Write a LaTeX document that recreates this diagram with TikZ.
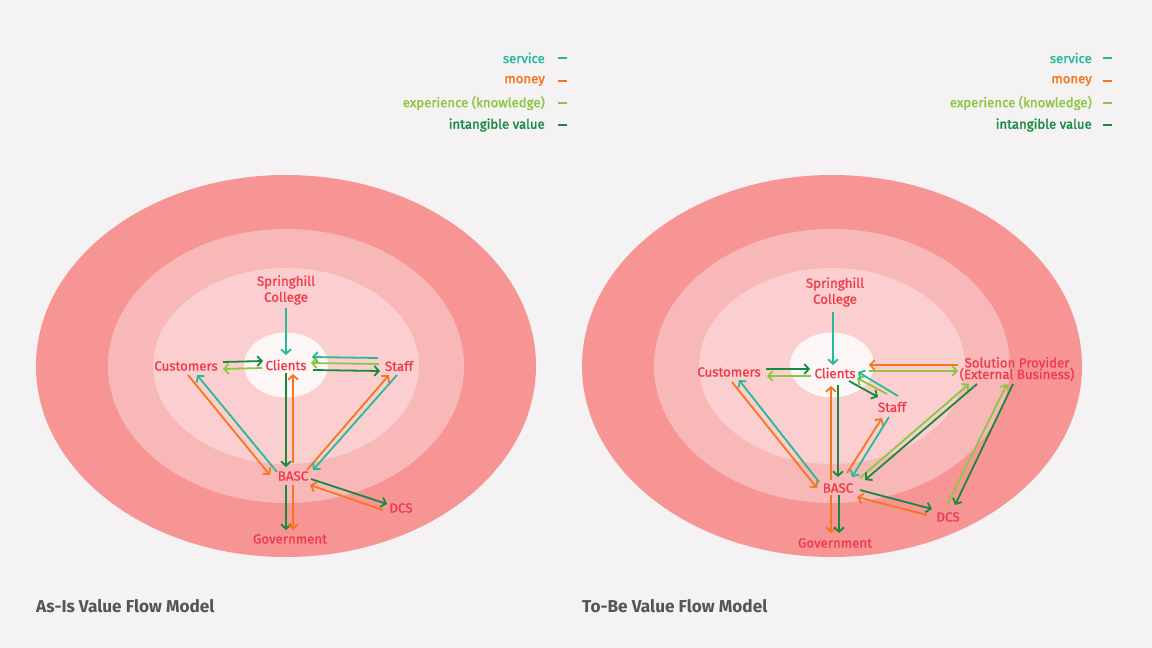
\documentclass[tikz,border=0pt]{standalone}
\usepackage{fontspec}
\setmainfont{Fira Sans}
\newfontfamily\medfont[FakeBold=1]{Fira Sans}
\newfontfamily\semfont[FakeBold=1.6]{Fira Sans}
\usetikzlibrary{arrows.meta,calc}
\definecolor{bg}{HTML}{F4F2F3}
\definecolor{ringA}{HTML}{F79494}
\definecolor{ringB}{HTML}{F9B8B8}
\definecolor{ringC}{HTML}{FBCFCF}
\definecolor{ringD}{HTML}{FDF6F6}
\definecolor{labred}{HTML}{F03A4C}
\definecolor{cteal}{HTML}{26B99A}
\definecolor{corange}{HTML}{F37721}
\definecolor{cltgreen}{HTML}{8DC63F}
\definecolor{cdkgreen}{HTML}{178A40}
\definecolor{titlegray}{HTML}{555555}
\tikzset{
  lab/.style={text=labred, inner sep=0pt, font=\medfont\fontsize{13.3}{16}\selectfont, align=center},
  lab2/.style={text=labred, inner sep=0pt, font=\medfont\fontsize{13.3}{11.5}\selectfont, align=center},
  legtext/.style={inner sep=0pt, anchor=east, font=\semfont\fontsize{13.2}{14}\selectfont},
  ttl/.style={text=titlegray, inner sep=0pt, anchor=west, font=\fontsize{17.2}{19}\selectfont\bfseries},
  ar/.style={line width=1.8pt, -{Straight Barb[length=4.5pt,width=10pt]}},
  sv/.style={ar, draw=cteal},
  mo/.style={ar, draw=corange},
  ex/.style={ar, draw=cltgreen},
  iv/.style={ar, draw=cdkgreen},
  legdash/.style={line width=2.2pt}
}
\begin{document}
\begin{tikzpicture}[x=1pt,y=-1pt]
\fill[bg] (0,0) rectangle (1152,648);
\useasboundingbox (0,0) rectangle (1152,648);

% ---------- rings ----------
\foreach \cx in {286,832}{
  \fill[ringA] (\cx,366) ellipse [x radius=250, y radius=191];
  \fill[ringB] (\cx,366) ellipse [x radius=178, y radius=137];
  \fill[ringC] (\cx,366) ellipse [x radius=133, y radius=98];
  \fill[ringD] (\cx,365) ellipse [x radius=42, y radius=32.5];
}

% ---------- legends ----------
\node[legtext, text=cteal] (Lls) at (545,58) {service};
\node[legtext, text=corange] (Llm) at (545,81) {money};
\node[legtext, text=cltgreen] (Lle) at (545,103) {experience (knowledge)};
\node[legtext, text=cdkgreen] (Lli) at (545,125) {intangible value};
\draw[legdash, cteal] (558,58) -- (567,58);
\draw[legdash, corange] (558,81) -- (567,81);
\draw[legdash, cltgreen] (558,103) -- (567,103);
\draw[legdash, cdkgreen] (558,125) -- (567,125);

\node[legtext, text=cteal] (Rls) at (1092,58) {service};
\node[legtext, text=corange] (Rlm) at (1092,81) {money};
\node[legtext, text=cltgreen] (Rle) at (1092,103) {experience (knowledge)};
\node[legtext, text=cdkgreen] (Rli) at (1092,125) {intangible value};
\draw[legdash, cteal] (1103,58) -- (1112,58);
\draw[legdash, corange] (1103,81) -- (1112,81);
\draw[legdash, cltgreen] (1103,103) -- (1112,103);
\draw[legdash, cdkgreen] (1103,125) -- (1112,125);

% ---------- titles ----------
\node[ttl] (Ltitle) at (36,606) {As-Is Value Flow Model};
\node[ttl] (Rtitle) at (582,606) {To-Be Value Flow Model};

% ---------- left diagram nodes ----------
\node[lab] (Lsc) at (286,290) {Springhill\\College};
\node[lab] (Lcli) at (286,365) {Clients};
\node[lab] (Lcus) at (186,366) {Customers};
\node[lab] (Lsta) at (399,366) {Staff};
\node[lab] (Lbasc) at (293,476) {BASC};
\node[lab] (Ldcs) at (401,508) {DCS};
\node[lab] (Lgov) at (290,539) {Government};

% ---------- left diagram arrows ----------
\draw[sv] ($(Lsc)+(0,18)$) -- ($(Lcli)+(0,-10)$);
\draw[iv] ($(Lcus)+(37,-4)$) -- ($(Lcli)+(-23,-4)$);
\draw[ex] ($(Lcli)+(-24,3)$) -- ($(Lcus)+(37,3)$);
\draw[sv] ($(Lsta)+(-21,-8)$) -- ($(Lcli)+(26,-8)$);
\draw[ex] ($(Lsta)+(-20,-2)$) -- ($(Lcli)+(25,-2)$);
\draw[iv] ($(Lcli)+(27,5)$) -- ($(Lsta)+(-19,5)$);
\draw[iv] ($(Lcli)+(0,8)$) -- ($(Lbasc)+(-7,-9)$);
\draw[mo] ($(Lbasc)+(0,-13)$) -- ($(Lcli)+(7,9)$);
\draw[mo] ($(Lcus)+(2,9)$) -- ($(Lbasc)+(-23,-1)$);
\draw[sv] ($(Lbasc)+(-16,-4)$) -- ($(Lcus)+(11,9)$);
\draw[mo] ($(Lbasc)+(14,-6)$) -- ($(Lsta)+(-10,9)$);
\draw[sv] ($(Lsta)+(-2,9)$) -- ($(Lbasc)+(20,-6)$);
\draw[iv] ($(Lbasc)+(18,3)$) -- ($(Ldcs)+(-14,-4)$);
\draw[mo] ($(Ldcs)+(-18,2)$) -- ($(Lbasc)+(17,9)$);
\draw[iv] ($(Lbasc)+(-7,9)$) -- ($(Lgov)+(-4,-9)$);
\draw[mo] ($(Lbasc)+(0,9)$) -- ($(Lgov)+(3,-9)$);

% ---------- right diagram nodes ----------
\node[lab] (Rsc) at (835,292) {Springhill\\College};
\node[lab] (Rcli) at (835,373) {Clients};
\node[lab] (Rcus) at (729,372) {Customers};
\node[lab] (Rsta) at (892,407) {Staff};
\node[lab2] (Rsp) at (1017,369) {Solution Provider\\(External Business)};
\node[lab] (Rbasc) at (838,488) {BASC};
\node[lab] (Rdcs) at (948,517) {DCS};
\node[lab] (Rgov) at (835,543) {Government};

% ---------- right diagram arrows ----------
\draw[sv] ($(Rsc)+(-2,20)$) -- ($(Rcli)+(-2,-8)$);
\draw[iv] ($(Rcus)+(37,-3)$) -- ($(Rcli)+(-25,-4)$);
\draw[ex] ($(Rcli)+(-24,3)$) -- ($(Rcus)+(38,4)$);
\draw[mo] ($(Rsp)+(-59,-4)$) -- ($(Rcli)+(34,-8)$);
\draw[ex] ($(Rcli)+(34,-2)$) -- ($(Rsp)+(-59,2)$);
\draw[iv] ($(Rcli)+(14,8)$) -- ($(Rsta)+(-14,-10)$);
\draw[ex] ($(Rsta)+(-5,-13)$) -- ($(Rcli)+(22,5)$);
\draw[sv] ($(Rsta)+(6,-11)$) -- ($(Rcli)+(23,-1)$);
\draw[iv] ($(Rcli)+(3,12)$) -- ($(Rbasc)+(0,-11)$);
\draw[mo] ($(Rbasc)+(-7,-8)$) -- ($(Rcli)+(-4,13)$);
\draw[mo] ($(Rcus)+(3,10)$) -- ($(Rbasc)+(-21,0)$);
\draw[sv] ($(Rbasc)+(-19,-6)$) -- ($(Rcus)+(10,8)$);
\draw[mo] ($(Rbasc)+(9,-15)$) -- ($(Rsta)+(-10,11)$);
\draw[sv] ($(Rsta)+(-3,10)$) -- ($(Rbasc)+(14,-11)$);
\draw[ex] ($(Rbasc)+(22,-10)$) -- ($(Rsp)+(-48,15)$);
\draw[iv] ($(Rsp)+(-40,15)$) -- ($(Rbasc)+(27,-8)$);
\draw[ex] ($(Rdcs)+(-1,-12)$) -- ($(Rsp)+(-10,15)$);
\draw[iv] ($(Rsp)+(-4,15)$) -- ($(Rdcs)+(7,-12)$);
\draw[iv] ($(Rbasc)+(22,2)$) -- ($(Rdcs)+(-16,-8)$);
\draw[mo] ($(Rdcs)+(-21,-2)$) -- ($(Rbasc)+(19,9)$);
\draw[mo] ($(Rbasc)+(-7,7)$) -- ($(Rgov)+(-4,-10)$);
\draw[iv] ($(Rbasc)+(1,7)$) -- ($(Rgov)+(4,-10)$);
\end{tikzpicture}
\end{document}
